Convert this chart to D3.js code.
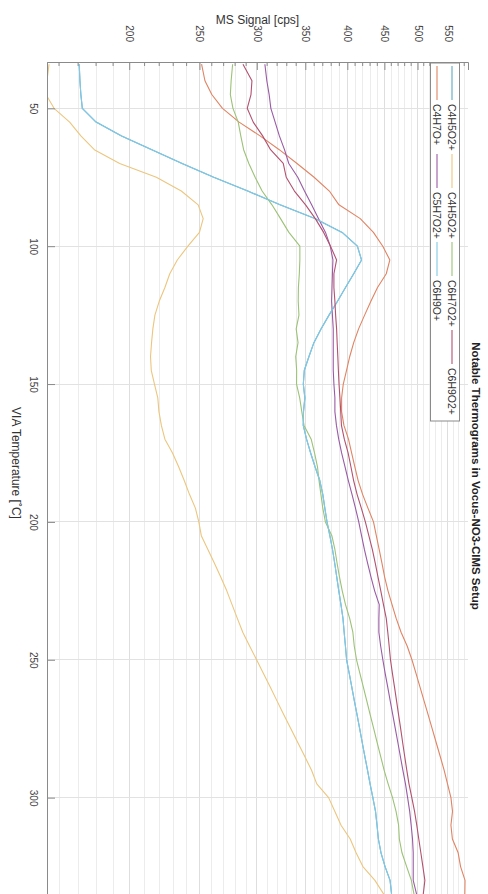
<!DOCTYPE html>
<html><head><meta charset="utf-8">
<script src="https://cdn.jsdelivr.net/npm/d3@7"></script>
<style>body{margin:0;background:#fff}svg{display:block;font-family:"Liberation Sans",Arial,Helvetica,sans-serif}</style>
</head><body>
<svg id="chart" width="488" height="894"></svg>
<script>
// ---- data ----
const temps = [34,40,45,50,55,60,65,70,75,80,85,90,95,100,105,110,115,120,125,130,135,140,145,150,155,160,165,170,175,180,185,190,195,200,205,210,215,220,225,230,235,240,245,250,255,260,265,270,275,280,285,290,295,300,305,310,315,320,325,330,335];

const c4h5o2Blue = [170.6,171,171.5,172.3,180,195.2,214.9,236.6,261.6,291.5,323,360.8,393.5,413,418.5,408.2,397.7,387.7,377.4,367.9,359.7,354.1,348.9,347.8,349.5,348,347.7,351.4,356,361,366.5,370,372.4,375,378.4,381.6,384.3,386.8,389.3,392,394.5,396,397.6,399.1,402.5,405.8,409.1,412.6,416,419.4,422.9,426.5,430,433.8,437.5,439.6,441.5,445.2,451,458.2,460.4];
const c4h7o = [251.7,254.4,260,269,283.6,303.1,322.2,340.9,359.9,377.8,389.5,416.8,434.6,447.7,457.9,452.7,440.3,431.1,422.6,414.6,408.2,403.1,399,394.9,392.8,392.8,395.7,401.5,405.5,409.7,414,419.9,427.1,434.7,438.6,442.6,446.6,450.4,455.2,461.1,467.2,474.5,483.8,491.2,497.7,504.1,510.6,517.2,523.8,530.5,537.3,544.1,550,556,558.8,556,558.6,568.9,573.3,581.5,581.1];
const c4h5o2Yellow = [155,154,153.5,157.5,165.5,171.5,179,194,218,236,249,253,250,241,233,227.5,224,220,217,215.6,214.7,214,214.5,216.7,219,219.8,221.5,224,229.5,234,238.2,242.2,246.8,249.5,251.5,256.8,262.2,267.5,272.7,277.3,282,286.9,293.2,299.8,306.4,313.2,320,327,334.3,341.7,349.3,356.9,363,376.9,384.5,392.1,403.7,411.3,420.3,436.7,449];
const c5h7o2 = [307.8,309.7,312,313.7,318,322.3,327.6,332.1,341.7,349.1,357.1,364.9,373.2,378.9,382.1,381.5,381,380.5,381.5,382.5,382.5,382.5,382.5,383.3,384.5,384.5,386.4,389.2,392.8,397.1,401.3,406,410.5,414.8,418.5,422.3,426.7,431.3,436.3,442.7,442.2,442.2,444.7,447.8,451.2,454.9,458.5,462.2,465.9,469.7,473.4,477.2,481.2,484.5,487.7,490,492.1,493.2,493.2,493.2,498.5];
const c6h7o2 = [277.8,276.5,275.8,278.1,282.8,285.1,287.7,292.5,298.4,305.1,314.8,323.5,332.2,344,344,343.4,342.4,342.2,343,340,342,339.5,340.5,340.4,343.8,346.1,348.6,356.6,360.4,363.8,365.6,367.8,370,373.1,380.8,384.5,387.2,390.2,393.6,397.7,403,407.1,408.9,411.9,416.4,421,425.6,430.2,435,439.7,444.7,449.6,455.4,461.8,467,470.8,471.9,475.9,483,490.3,494.4];
const c6h9o = [170.6,171,171.5,172.3,180,195.2,214.9,236.6,261.6,291.5,323,360.8,393.5,413,418.5,408.2,397.7,387.7,377.4,367.9,359.7,354.1,348.9,347.8,349.5,348,347.7,351.4,356,361,366.5,370,372.4,375,378.4,381.6,384.3,386.8,389.3,392,394.5,396,397.6,399.1,402.5,405.8,409.1,412.6,416,419.4,422.9,426.5,430,433.8,437.5,439.6,441.5,445.2,451,458.2,460.4];
const c6h9o2 = [287.1,295.4,294.5,291,296.6,305.6,313.4,326.3,329.4,338.1,350.3,361.3,371,379.2,386.6,383.3,383.3,384.5,385.4,386.6,387.3,388.1,388.8,389.6,390.7,391.7,392.6,396.2,401,404.6,408.1,412.6,418.2,423.6,428.3,433.1,437.2,441,444.9,448.7,452.7,454.9,456.9,458.8,461.7,464.8,467.8,470.8,473.9,476.9,480,483.2,486.6,491,495.3,498.8,502,505.3,508.6,511.8,509.2];

const seriesNames = ["C4H5O2+","C4H7O+","C4H5O2+","C5H7O2+","C6H7O2+","C6H9O+","C6H9O2+"];
const seriesValues = [c4h5o2Blue,c4h7o,c4h5o2Yellow,c5h7o2,c6h7o2,c6h9o,c6h9o2];
const seriesColors = ["#5fa9c4","#e08463","#ecc67e","#9a5ba6","#9cc277","#82c9e6","#b25170"];

const signalTicks = [200,250,300,350,400,450,500,550];
const signalMinor = d3.range(160,590,10);
const tempTicks = [50,100,150,200,250,300];

// ---- layout ----
const svg = d3.select("#chart");
const L = 47, R = 468, T = 62, B = 898;
const x = d3.scaleLog().domain([154,587]).range([L,R]);
const y = d3.scaleLinear().domain([33.2,336.4]).range([T,B]);

svg.append("defs").append("clipPath").attr("id","plot")
  .append("rect").attr("x",L).attr("y",T).attr("width",R-L).attr("height",B-T);

// grid
const grid = svg.append("g");
grid.selectAll("line.vg").data(signalMinor).join("line")
  .attr("x1",d=>x(d)).attr("x2",d=>x(d)).attr("y1",T).attr("y2",B)
  .attr("stroke",d=>signalTicks.includes(d)?"#dedede":"#ececec").attr("stroke-width",1).attr("shape-rendering","crispEdges");
grid.selectAll("line.hg").data(tempTicks).join("line")
  .attr("x1",L).attr("x2",R).attr("y1",d=>y(d)).attr("y2",d=>y(d))
  .attr("stroke","#e2e2e2").attr("stroke-width",1).attr("shape-rendering","crispEdges");

// lines
const line = d3.line().x(d=>x(d[1])).y(d=>y(d[0]));
const lg = svg.append("g").attr("clip-path","url(#plot)");
seriesValues.forEach((vals,i)=>{
  lg.append("path").datum(temps.map((t,j)=>[t,vals[j]]))
    .attr("d",line).attr("fill","none").attr("stroke",seriesColors[i]).attr("stroke-width",1.1)
    .attr("stroke-linejoin","round");
});

// top axis (signal)
const topAxis = svg.append("g").attr("transform",`translate(0,${T})`)
  .call(d3.axisTop(x).tickValues(signalTicks).tickSize(-8).tickFormat(d3.format("d")).tickPadding(0));
topAxis.select(".domain").attr("stroke","#8a8a8a");
topAxis.selectAll(".tick line").attr("stroke","#8a8a8a");
topAxis.selectAll(".tick text")
  .attr("transform","translate(0,-20) rotate(90)").attr("x",0).attr("y",0).attr("dy","0.35em")
  .attr("text-anchor","end").attr("fill","#444").attr("font-size",10);
svg.append("g").selectAll("line").data(signalMinor.filter(d=>!signalTicks.includes(d))).join("line")
  .attr("x1",d=>x(d)).attr("x2",d=>x(d)).attr("y1",T).attr("y2",T+4).attr("stroke","#8a8a8a");

// left axis (temperature)
const leftAxis = svg.append("g").attr("transform",`translate(${L},0)`)
  .call(d3.axisLeft(y).tickValues(tempTicks).tickSize(-8).tickPadding(0));
leftAxis.select(".domain").attr("stroke","#8a8a8a");
leftAxis.selectAll(".tick line").attr("stroke","#8a8a8a");
leftAxis.selectAll(".tick text")
  .attr("transform","translate(-17,0) rotate(90)").attr("x",0).attr("y",0).attr("dy",0)
  .attr("text-anchor","middle").attr("fill","#444").attr("font-size",10);

// axis labels & title
svg.append("text").attr("x",(L+R)/2).attr("y",23.5).attr("text-anchor","middle")
  .attr("font-size",12).attr("fill","#333").text("MS Signal [cps]");
svg.append("text").attr("transform","translate(12,463) rotate(90)").attr("text-anchor","middle")
  .attr("font-size",12).attr("fill","#333").text("VIA Temperature [˚C]");
svg.append("text").attr("transform","translate(472,476) rotate(90)").attr("text-anchor","middle")
  .attr("font-size",11.5).attr("font-weight","bold").attr("fill","#222").text("Notable Thermograms in Vocus-NO3-CIMS Setup");

// legend
const lgd = svg.append("g");
lgd.append("rect").attr("x",430.5).attr("y",63).attr("width",29).attr("height",358)
  .attr("fill","#fff").attr("stroke","#8a8a8a");
const rowX = [452,437];
seriesNames.forEach((name,i)=>{
  const col = Math.floor(i/2), row = i%2;
  const y0 = 66 + col*88;
  lgd.append("line").attr("x1",rowX[row]).attr("x2",rowX[row]).attr("y1",y0).attr("y2",y0+34)
    .attr("stroke",seriesColors[i]).attr("stroke-width",1.1);
  lgd.append("text").attr("transform",`translate(${rowX[row]-3.6},${y0+38}) rotate(90)`)
    .attr("font-size",10.5).attr("fill","#333").text(name);
});
</script>
</body></html>
